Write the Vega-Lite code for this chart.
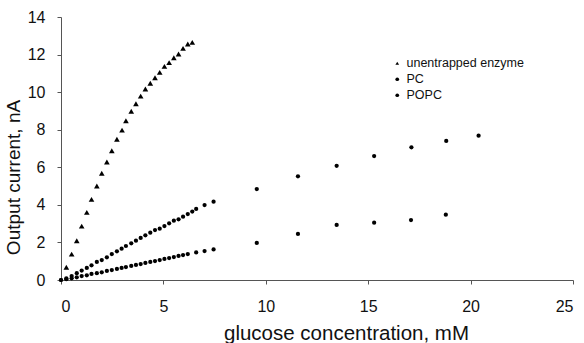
{
  "$schema": "https://vega.github.io/schema/vega-lite/v6.json",
  "autosize": "none",
  "width": 512,
  "height": 263,
  "padding": {"left": 61, "top": 17, "right": 11, "bottom": 63},
  "background": "white",
  "config": {
    "font": "Liberation Sans",
    "view": {"stroke": null},
    "axis": {"grid": false, "domainColor": "#555", "tickColor": "#555", "labelColor": "#111", "titleColor": "#111", "labelFont": "Liberation Sans", "titleFont": "Liberation Sans", "titleFontWeight": "normal"}
  },
  "data": {"values": [
    {"series": "unentrapped enzyme", "x": 0.26, "y": 0.68},
    {"series": "unentrapped enzyme", "x": 0.52, "y": 1.38},
    {"series": "unentrapped enzyme", "x": 0.77, "y": 2.09},
    {"series": "unentrapped enzyme", "x": 1.01, "y": 2.87},
    {"series": "unentrapped enzyme", "x": 1.26, "y": 3.60},
    {"series": "unentrapped enzyme", "x": 1.49, "y": 4.29},
    {"series": "unentrapped enzyme", "x": 1.75, "y": 5.00},
    {"series": "unentrapped enzyme", "x": 1.99, "y": 5.68},
    {"series": "unentrapped enzyme", "x": 2.24, "y": 6.28},
    {"series": "unentrapped enzyme", "x": 2.48, "y": 6.88},
    {"series": "unentrapped enzyme", "x": 2.73, "y": 7.49},
    {"series": "unentrapped enzyme", "x": 2.98, "y": 7.98},
    {"series": "unentrapped enzyme", "x": 3.17, "y": 8.48},
    {"series": "unentrapped enzyme", "x": 3.43, "y": 8.98},
    {"series": "unentrapped enzyme", "x": 3.66, "y": 9.38},
    {"series": "unentrapped enzyme", "x": 3.89, "y": 9.79},
    {"series": "unentrapped enzyme", "x": 4.12, "y": 10.17},
    {"series": "unentrapped enzyme", "x": 4.36, "y": 10.47},
    {"series": "unentrapped enzyme", "x": 4.59, "y": 10.77},
    {"series": "unentrapped enzyme", "x": 4.82, "y": 11.05},
    {"series": "unentrapped enzyme", "x": 5.05, "y": 11.37},
    {"series": "unentrapped enzyme", "x": 5.28, "y": 11.57},
    {"series": "unentrapped enzyme", "x": 5.51, "y": 11.83},
    {"series": "unentrapped enzyme", "x": 5.74, "y": 12.03},
    {"series": "unentrapped enzyme", "x": 5.96, "y": 12.33},
    {"series": "unentrapped enzyme", "x": 6.19, "y": 12.56},
    {"series": "unentrapped enzyme", "x": 6.41, "y": 12.65},
    {"series": "PC", "x": 0.0, "y": 0.0},
    {"series": "PC", "x": 0.26, "y": 0.09},
    {"series": "PC", "x": 0.52, "y": 0.21},
    {"series": "PC", "x": 0.77, "y": 0.36},
    {"series": "PC", "x": 1.01, "y": 0.50},
    {"series": "PC", "x": 1.26, "y": 0.64},
    {"series": "PC", "x": 1.49, "y": 0.78},
    {"series": "PC", "x": 1.75, "y": 0.96},
    {"series": "PC", "x": 1.99, "y": 1.06},
    {"series": "PC", "x": 2.24, "y": 1.21},
    {"series": "PC", "x": 2.48, "y": 1.38},
    {"series": "PC", "x": 2.73, "y": 1.53},
    {"series": "PC", "x": 2.96, "y": 1.67},
    {"series": "PC", "x": 3.17, "y": 1.81},
    {"series": "PC", "x": 3.43, "y": 1.95},
    {"series": "PC", "x": 3.66, "y": 2.09},
    {"series": "PC", "x": 3.89, "y": 2.24},
    {"series": "PC", "x": 4.12, "y": 2.38},
    {"series": "PC", "x": 4.36, "y": 2.52},
    {"series": "PC", "x": 4.59, "y": 2.66},
    {"series": "PC", "x": 4.82, "y": 2.73},
    {"series": "PC", "x": 5.05, "y": 2.87},
    {"series": "PC", "x": 5.28, "y": 3.02},
    {"series": "PC", "x": 5.51, "y": 3.16},
    {"series": "PC", "x": 5.74, "y": 3.23},
    {"series": "PC", "x": 5.96, "y": 3.37},
    {"series": "PC", "x": 6.19, "y": 3.51},
    {"series": "PC", "x": 6.41, "y": 3.64},
    {"series": "PC", "x": 6.60, "y": 3.78},
    {"series": "PC", "x": 7.01, "y": 3.99},
    {"series": "PC", "x": 7.45, "y": 4.17},
    {"series": "PC", "x": 9.56, "y": 4.84},
    {"series": "PC", "x": 11.57, "y": 5.52},
    {"series": "PC", "x": 13.46, "y": 6.08},
    {"series": "PC", "x": 15.29, "y": 6.60},
    {"series": "PC", "x": 17.11, "y": 7.06},
    {"series": "PC", "x": 18.81, "y": 7.40},
    {"series": "PC", "x": 20.39, "y": 7.68},
    {"series": "POPC", "x": 0.0, "y": 0.0},
    {"series": "POPC", "x": 0.26, "y": 0.04},
    {"series": "POPC", "x": 0.52, "y": 0.09},
    {"series": "POPC", "x": 0.77, "y": 0.14},
    {"series": "POPC", "x": 1.01, "y": 0.21},
    {"series": "POPC", "x": 1.26, "y": 0.25},
    {"series": "POPC", "x": 1.49, "y": 0.32},
    {"series": "POPC", "x": 1.75, "y": 0.36},
    {"series": "POPC", "x": 1.99, "y": 0.41},
    {"series": "POPC", "x": 2.24, "y": 0.48},
    {"series": "POPC", "x": 2.48, "y": 0.53},
    {"series": "POPC", "x": 2.73, "y": 0.59},
    {"series": "POPC", "x": 2.96, "y": 0.64},
    {"series": "POPC", "x": 3.17, "y": 0.69},
    {"series": "POPC", "x": 3.43, "y": 0.75},
    {"series": "POPC", "x": 3.66, "y": 0.80},
    {"series": "POPC", "x": 3.89, "y": 0.85},
    {"series": "POPC", "x": 4.12, "y": 0.91},
    {"series": "POPC", "x": 4.36, "y": 0.96},
    {"series": "POPC", "x": 4.59, "y": 1.01},
    {"series": "POPC", "x": 4.82, "y": 1.06},
    {"series": "POPC", "x": 5.05, "y": 1.12},
    {"series": "POPC", "x": 5.28, "y": 1.17},
    {"series": "POPC", "x": 5.51, "y": 1.22},
    {"series": "POPC", "x": 5.74, "y": 1.28},
    {"series": "POPC", "x": 5.96, "y": 1.33},
    {"series": "POPC", "x": 6.19, "y": 1.38},
    {"series": "POPC", "x": 6.60, "y": 1.47},
    {"series": "POPC", "x": 7.01, "y": 1.54},
    {"series": "POPC", "x": 7.45, "y": 1.63},
    {"series": "POPC", "x": 9.56, "y": 1.97},
    {"series": "POPC", "x": 11.57, "y": 2.45},
    {"series": "POPC", "x": 13.46, "y": 2.93},
    {"series": "POPC", "x": 15.29, "y": 3.05},
    {"series": "POPC", "x": 17.09, "y": 3.19},
    {"series": "POPC", "x": 18.79, "y": 3.48}
  ]},
  "mark": {"type": "point", "filled": true, "opacity": 1},
  "encoding": {
    "x": {"field": "x", "type": "quantitative", "scale": {"domain": [0, 25], "nice": false, "zero": true},
      "axis": {"values": [0, 5, 10, 15, 20, 25], "title": "glucose concentration, mM", "labelFontSize": 16, "titleFontSize": 20.5, "tickSize": 4, "labelPadding": 14, "titlePadding": 9, "titleX": 285}},
    "y": {"field": "y", "type": "quantitative", "scale": {"domain": [0, 14], "nice": false},
      "axis": {"values": [0, 2, 4, 6, 8, 10, 12, 14], "title": "Output current, nA", "labelFontSize": 16, "titleFontSize": 19, "tickSize": 4, "labelPadding": 12, "titlePadding": 4, "titleY": 160}},
    "shape": {"field": "series", "type": "nominal",
      "scale": {"domain": ["unentrapped enzyme", "PC", "POPC"], "range": ["triangle-up", "circle", "circle"]},
      "legend": {"title": null, "orient": "none", "legendX": 330, "legendY": 40, "labelFontSize": 12.5, "labelColor": "#111", "symbolSize": 14, "symbolFillColor": "black", "symbolStrokeColor": "black", "rowPadding": 3, "labelOffset": 3}},
    "color": {"value": "black"},
    "size": {"condition": {"test": "datum.series === 'unentrapped enzyme'", "value": 32}, "value": 18}
  }
}
